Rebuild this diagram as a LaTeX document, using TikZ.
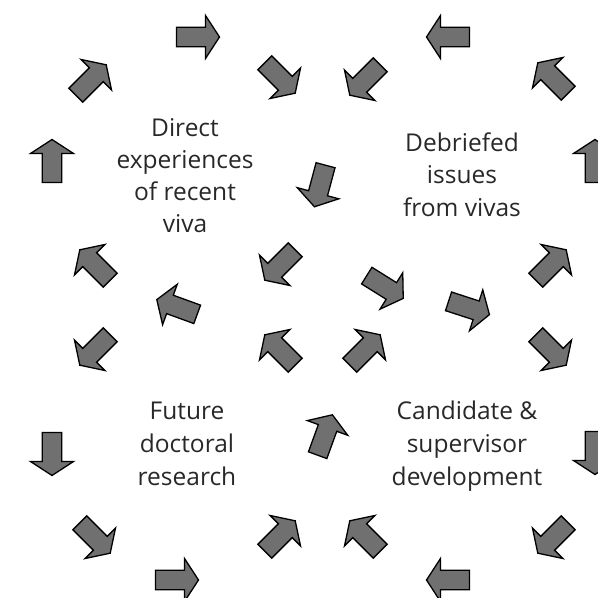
\documentclass[tikz,border=0pt]{standalone}
\usepackage{fontspec}
\setmainfont{Open Sans}
\definecolor{arrowfill}{RGB}{112,112,112}
\definecolor{labeltext}{RGB}{40,40,40}
\tikzset{
  cyclearrow/.style={fill=arrowfill, draw=black, line width=1.3pt, line join=miter},
  blocktext/.style={font=\fontsize{24.5}{30}\selectfont, text=labeltext, anchor=base, inner sep=0pt}
}
\begin{document}
\begin{tikzpicture}[x=1pt,y=1pt]
\useasboundingbox (0,0) rectangle (598,598);

% block arrows: centre x / centre y / heading
\foreach \px/\py/\ang in {
  198/561/0,    280/520/-45,  320/412/-105, 280/333/-135,
  177/291/160,  95/333/135,   52/437/90,    91/518/45,
  448/561/180,  365/518/-135, 553/520/135,  595/437/90,
  551/333/45,   469/290/-18,  385/311/-32,
  95/248/-135,  52/144/-90,   95/60/-45,    177/18/0,
  280/62/45,    325/163/70,   280/248/135,
  365/248/45,   551/248/-45,  595/145/-90,  553/60/-135,
  448/18/180,   365/62/135}{
  \filldraw[cyclearrow, shift={(\px,\py)}, rotate=\ang]
    (-21.5,-9.8) -- (7.5,-9.8) -- (7.5,-21.5) -- (21.5,0)
    -- (7.5,21.5) -- (7.5,9.8) -- (-21.5,9.8) -- cycle;
}

% four labels, one line per node
\node[blocktext] (tl1) at (185,461) {Direct};
\node[blocktext] (tl2) at (185,429) {experiences};
\node[blocktext] (tl3) at (185,397) {of recent};
\node[blocktext] (tl4) at (185,365) {viva};

\node[blocktext] (tr1) at (462,446) {Debriefed};
\node[blocktext] (tr2) at (462,414) {issues};
\node[blocktext] (tr3) at (462,381) {from vivas};

\node[blocktext] (bl1) at (187,178) {Future};
\node[blocktext] (bl2) at (187,145) {doctoral};
\node[blocktext] (bl3) at (187,112) {research};

\node[blocktext] (br1) at (467,178) {Candidate \&};
\node[blocktext] (br2) at (467,145) {supervisor};
\node[blocktext] (br3) at (467,112) {development};
\end{tikzpicture}
\end{document}
